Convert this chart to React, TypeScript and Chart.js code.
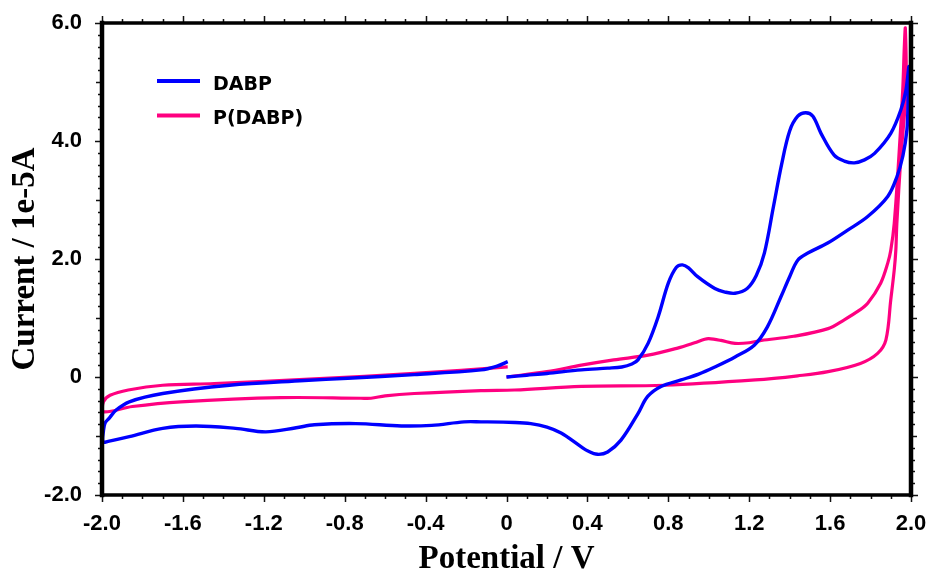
import React, { useEffect, useRef } from 'react';
import { Chart, registerables } from 'chart.js';

Chart.register(...registerables);

const seriesLabels = ['DABP', 'P(DABP)'];
const seriesColors = ['#0000ff', '#ff0080'];

const dabpPotential = [
  0.0, 0.1, 0.2, 0.37, 0.5, 0.57, 0.62, 0.65, 0.7, 0.75, 0.8, 0.84, 0.87, 0.9, 0.945, 1.03, 1.08, 1.13, 1.19, 1.235, 1.275,
  1.32, 1.36, 1.4, 1.44, 1.48, 1.515, 1.555, 1.62, 1.67, 1.72, 1.77, 1.82, 1.9, 1.95, 1.975, 1.99,
  1.985, 1.98, 1.96, 1.93, 1.885, 1.786, 1.687, 1.588, 1.49, 1.44, 1.4, 1.357, 1.29, 1.225, 1.13, 1.03, 0.95, 0.863, 0.764,
  0.698, 0.65, 0.566, 0.5, 0.45, 0.4, 0.368, 0.27, 0.2, 0.12, 0.04, -0.126, -0.21, -0.37, -0.52, -0.745, -0.95, -1.04, -1.19,
  -1.34, -1.535, -1.7, -1.865, -1.97, -1.995,
  -1.993, -1.985, -1.965, -1.93, -1.865, -1.7, -1.37, -1.0, -0.785, -0.456, -0.126, -0.05, 0.006,
];
const dabpCurrent = [
  0.0, 0.03, 0.06, 0.12, 0.15, 0.17, 0.22, 0.29, 0.57, 1.02, 1.59, 1.86, 1.9, 1.85, 1.7, 1.5, 1.44, 1.42, 1.5, 1.72, 2.1,
  2.89, 3.6, 4.17, 4.42, 4.48, 4.42, 4.13, 3.76, 3.66, 3.63, 3.68, 3.79, 4.13, 4.53, 4.86, 5.26,
  4.6, 4.19, 3.75, 3.39, 3.06, 2.72, 2.49, 2.27, 2.1, 1.98, 1.7, 1.36, 0.85, 0.54, 0.34, 0.17, 0.05, -0.05, -0.16,
  -0.33, -0.62, -1.07, -1.27, -1.31, -1.25, -1.18, -0.95, -0.85, -0.79, -0.77, -0.76, -0.76, -0.82, -0.83, -0.79, -0.81, -0.86, -0.93,
  -0.87, -0.83, -0.87, -1.01, -1.09, -1.1,
  -0.92, -0.78, -0.7, -0.56, -0.42, -0.28, -0.14, -0.06, -0.02, 0.04, 0.12, 0.18, 0.26,
];

const pdabpPotential = [
  0.0, 0.2, 0.37, 0.53, 0.7, 0.846, 0.93, 0.98, 1.0, 1.06, 1.13, 1.2, 1.26, 1.42, 1.59, 1.67, 1.74, 1.786, 1.85, 1.885, 1.9,
  1.917, 1.94, 1.959, 1.967, 1.972,
  1.975, 1.95, 1.93, 1.925, 1.917, 1.9, 1.876, 1.835, 1.75, 1.59, 1.44, 1.23, 0.78, 0.37, 0.04, -0.126, -0.456, -0.6, -0.67,
  -0.72, -1.115, -1.61, -1.85, -1.995,
  -1.993, -1.96, -1.87, -1.7, -1.445, -0.95, -0.456, 0.006,
];
const pdabpCurrent = [
  0.0, 0.09, 0.2, 0.29, 0.37, 0.49, 0.58, 0.64, 0.65, 0.62, 0.57, 0.58, 0.62, 0.69, 0.82, 0.97, 1.12, 1.25, 1.59, 1.93, 2.15,
  2.6, 3.73, 4.86, 5.6, 5.91,
  4.86, 3.73, 2.6, 2.15, 1.81, 1.31, 0.63, 0.4, 0.23, 0.09, 0.02, -0.05, -0.14, -0.16, -0.22, -0.23, -0.28, -0.32, -0.36,
  -0.36, -0.35, -0.42, -0.5, -0.59,
  -0.42, -0.31, -0.22, -0.14, -0.11, -0.03, 0.06, 0.17,
];

const xTickValues = [-2.0, -1.6, -1.2, -0.8, -0.4, 0, 0.4, 0.8, 1.2, 1.6, 2.0];
const yTickValues = [-2.0, 0, 2.0, 4.0, 6.0];

const fmt = (v: number) => (Math.abs(v) < 1e-9 ? '0' : v.toFixed(1));
const toPoints = (xs: number[], ys: number[]) => xs.map((x, i) => ({ x, y: ys[i] }));

const framePlugin = {
  id: 'cvFrame',
  afterDraw(chart: any) {
    const { ctx, chartArea: a } = chart;
    const xs = chart.scales.x;
    const ys = chart.scales.y;
    ctx.save();
    ctx.strokeStyle = '#111';
    ctx.lineWidth = 1.5;
    for (let i = 0; i <= 40; i++) {
      const v = -2 + i * 0.1;
      const px = Math.round(xs.getPixelForValue(v)) + 0.5;
      const len = i % 4 === 0 ? 7 : 4;
      ctx.beginPath();
      ctx.moveTo(px, a.bottom);
      ctx.lineTo(px, a.bottom + len);
      ctx.moveTo(px, a.top);
      ctx.lineTo(px, a.top - len);
      ctx.stroke();
    }
    for (let i = 0; i <= 40; i++) {
      const v = -2 + i * 0.2;
      const py = Math.round(ys.getPixelForValue(v)) + 0.5;
      const len = i % 10 === 0 ? 7 : i % 5 === 0 ? 6 : 4;
      ctx.beginPath();
      ctx.moveTo(a.left, py);
      ctx.lineTo(a.left - len, py);
      ctx.moveTo(a.right, py);
      ctx.lineTo(a.right + len, py);
      ctx.stroke();
    }
    ctx.strokeStyle = '#000';
    ctx.lineCap = 'square';
    ctx.lineWidth = 3.5;
    ctx.beginPath();
    ctx.moveTo(a.left, a.top);
    ctx.lineTo(a.right, a.top);
    ctx.moveTo(a.left, a.bottom);
    ctx.lineTo(a.right, a.bottom);
    ctx.stroke();
    ctx.lineWidth = 4.5;
    ctx.beginPath();
    ctx.moveTo(a.left, a.top);
    ctx.lineTo(a.left, a.bottom);
    ctx.moveTo(a.right, a.top);
    ctx.lineTo(a.right, a.bottom);
    ctx.stroke();

    // legend
    ctx.lineCap = 'butt';
    ctx.font = 'bold 19px "DejaVu Sans"';
    ctx.textBaseline = 'alphabetic';
    ctx.textAlign = 'left';
    chart.data.datasets.forEach((ds: any, i: number) => {
      const ly = a.top + 58 + i * 34.5;
      ctx.strokeStyle = ds.borderColor;
      ctx.lineWidth = 4;
      ctx.beginPath();
      ctx.moveTo(a.left + 55, ly);
      ctx.lineTo(a.left + 98, ly);
      ctx.stroke();
      ctx.fillStyle = '#000';
      ctx.fillText(ds.label, a.left + 111, ly + 8.5);
    });
    ctx.restore();
  },
};

export default function App() {
  const ref = useRef<HTMLCanvasElement | null>(null);
  useEffect(() => {
    if (!ref.current) return;
    const tickFont = { family: '"Liberation Sans", Arial, sans-serif', weight: 'bold' as const, size: 22 };
    const titleFont = { family: '"Liberation Serif", "Times New Roman", serif', weight: 'bold' as const, size: 33, lineHeight: 0.64 };
    const chart = new Chart(ref.current, {
      type: 'scatter',
      data: {
        datasets: [
          {
            label: seriesLabels[0],
            data: toPoints(dabpPotential, dabpCurrent),
            showLine: true,
            borderColor: seriesColors[0],
            backgroundColor: seriesColors[0],
            borderWidth: 3.4,
            pointRadius: 0,
            tension: 0.35,
          },
          {
            label: seriesLabels[1],
            data: toPoints(pdabpPotential, pdabpCurrent),
            showLine: true,
            borderColor: seriesColors[1],
            backgroundColor: seriesColors[1],
            borderWidth: 3.2,
            pointRadius: 0,
            tension: 0.35,
          },
        ],
      },
      options: {
        animation: false,
        responsive: false,
        layout: { padding: { top: 23, right: 16, left: 0, bottom: 0 } },
        plugins: { legend: { display: false }, tooltip: { enabled: false } },
        scales: {
          x: {
            type: 'linear',
            min: -2,
            max: 2,
            afterBuildTicks: (s: any) => {
              s.ticks = xTickValues.map((v) => ({ value: v }));
            },
            afterFit: (s: any) => {
              s.height = 75;
              s.paddingLeft = 0;
              s.paddingRight = 0;
            },
            ticks: { autoSkip: false, maxRotation: 0, padding: 16, color: '#000', font: tickFont, callback: (v: any) => fmt(Number(v)) },
            grid: { display: false, drawTicks: false },
            border: { display: false },
            title: { display: true, text: 'Potential / V', color: '#000', font: titleFont, padding: { top: 0, bottom: 0 } },
          },
          y: {
            type: 'linear',
            min: -2,
            max: 6,
            afterBuildTicks: (s: any) => {
              s.ticks = yTickValues.map((v) => ({ value: v }));
            },
            afterFit: (s: any) => {
              s.width = 102;
              s.paddingTop = 0;
              s.paddingBottom = 0;
            },
            ticks: { autoSkip: false, padding: 20, color: '#000', font: tickFont, callback: (v: any) => fmt(Number(v)) },
            grid: { display: false, drawTicks: false },
            border: { display: false },
            title: { display: true, text: 'Current / 1e-5A', color: '#000', font: { ...titleFont, lineHeight: 1.2 }, padding: { top: 6, bottom: 0 } },
          },
        },
      },
      plugins: [framePlugin],
    });
    return () => chart.destroy();
  }, []);
  return (
    <div style={{ position: 'absolute', left: 0, top: 0, width: 927, height: 570, background: '#fff' }}>
      <canvas ref={ref} width={927} height={570} style={{ display: 'block' }} />
    </div>
  );
}
